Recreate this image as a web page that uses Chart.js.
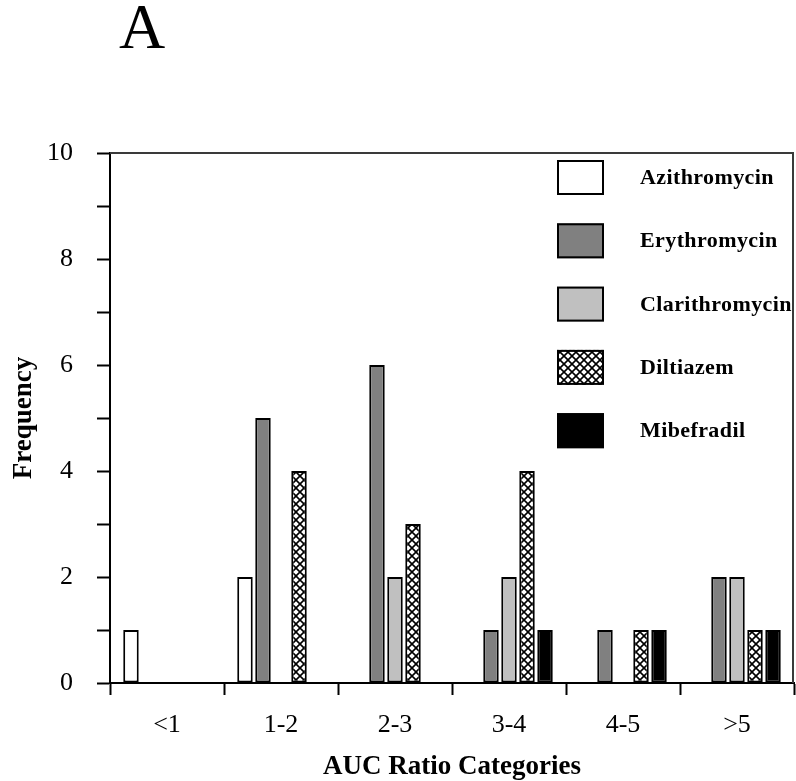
<!DOCTYPE html>
<html>
<head>
<meta charset="utf-8">
<title>AUC Ratio Categories</title>
<script src="https://cdn.jsdelivr.net/npm/chart.js@4/dist/chart.umd.min.js"></script>
<style>
  html, body { margin: 0; padding: 0; background: #ffffff; }
  canvas { display: block; }
</style>
</head>
<body>
<canvas id="chart" width="796" height="781"></canvas>
<script>
// Categories of AUC ratio and the number of interactions in each one
const categories = ['<1', '1-2', '2-3', '3-4', '4-5', '>5'];
const azithromycin = [1, 2, 0, 0, 0, 0];
const erythromycin = [0, 5, 6, 1, 1, 2];
const clarithromycin = [0, 0, 2, 2, 0, 2];
const diltiazem = [0, 4, 3, 4, 1, 1];
const mibefradil = [0, 0, 0, 1, 1, 1];

// Frequency axis: 0..10, a tick every unit, a label every second unit
const yMin = 0;
const yMax = 10;
const yStep = 1;
const yLabelEvery = 2;

const SERIF = "'Liberation Serif', 'Times New Roman', serif";

// Cross-hatch fill used for Diltiazem
function crossHatch() {
  const size = 8;
  const c = document.createElement('canvas');
  c.width = size; c.height = size;
  const g = c.getContext('2d');
  g.fillStyle = '#ffffff';
  g.fillRect(0, 0, size, size);
  g.strokeStyle = '#000000';
  g.lineWidth = 1.6;
  g.beginPath();
  g.moveTo(-1, -1); g.lineTo(size + 1, size + 1);
  g.moveTo(size + 1, -1); g.lineTo(-1, size + 1);
  g.stroke();
  return g.createPattern(c, 'repeat');
}

const ctx = document.getElementById('chart').getContext('2d');

const series = [
  { label: 'Azithromycin', data: azithromycin, fill: '#ffffff' },
  { label: 'Erythromycin', data: erythromycin, fill: '#808080' },
  { label: 'Clarithromycin', data: clarithromycin, fill: '#c0c0c0' },
  { label: 'Diltiazem', data: diltiazem, fill: crossHatch() },
  { label: 'Mibefradil', data: mibefradil, fill: '#000000' }
];

// Panel letter, frame lines and the boxed legend inside the plot
const decorations = {
  id: 'decorations',
  afterDraw(chart) {
    const c = chart.ctx;
    const a = chart.chartArea;
    c.save();

    // top and right frame
    c.strokeStyle = '#3a3a3a';
    c.lineWidth = 2;
    c.beginPath();
    c.moveTo(a.left, a.top);
    c.lineTo(a.right - 1, a.top);
    c.lineTo(a.right - 1, a.bottom);
    c.stroke();

    // panel letter
    c.fillStyle = '#000000';
    c.font = '64px ' + SERIF;
    c.textAlign = 'left';
    c.textBaseline = 'alphabetic';
    c.fillText('A', 119, 48);

    // legend
    const boxX = a.right - 237;
    const textX = a.right - 154;
    const boxW = 47, boxH = 35, pitch = 63.3;
    c.font = 'bold 22px ' + SERIF;
    if ('letterSpacing' in c) c.letterSpacing = '0.4px';
    c.textBaseline = 'middle';
    chart.data.datasets.forEach((ds, i) => {
      const y = a.top + 7 + i * pitch;
      c.fillStyle = ds.backgroundColor;
      c.fillRect(boxX, y, boxW, boxH);
      c.strokeStyle = '#000000';
      c.lineWidth = 2;
      c.strokeRect(boxX + 1, y + 1, boxW - 2, boxH - 2);
      c.fillStyle = '#000000';
      c.fillText(ds.label, textX, y + boxH / 2 + 1);
    });
    c.restore();
  }
};

new Chart(ctx, {
  type: 'bar',
  data: {
    labels: categories,
    datasets: series.map(s => ({
      label: s.label,
      data: s.data,
      backgroundColor: s.fill,
      borderColor: '#000000',
      borderWidth: 2,
      borderSkipped: false,
      categoryPercentage: 0.79,
      barPercentage: 0.86
    }))
  },
  options: {
    responsive: false,
    animation: false,
    devicePixelRatio: 1,
    layout: { padding: { top: 153, right: 2, left: 0, bottom: 0 } },
    plugins: {
      legend: { display: false },
      tooltip: { enabled: false }
    },
    scales: {
      x: {
        afterFit(scale) { scale.height = 98; },
        grid: {
          offset: true,
          drawOnChartArea: false,
          drawTicks: true,
          tickLength: 12,
          tickWidth: 2,
          tickColor: '#000000'
        },
        border: { display: true, color: '#000000', width: 2 },
        ticks: {
          color: '#000000',
          padding: 15,
          font: { family: SERIF, size: 26 }
        },
        title: {
          display: true,
          text: 'AUC Ratio Categories',
          color: '#000000',
          font: { family: SERIF, size: 27, weight: 'bold', lineHeight: 1.0 },
          padding: { top: 6, bottom: 0 }
        }
      },
      y: {
        min: yMin,
        max: yMax,
        afterFit(scale) { scale.width = 110; },
        grid: {
          drawOnChartArea: false,
          drawTicks: true,
          tickLength: 13,
          tickWidth: 2,
          tickColor: '#000000'
        },
        border: { display: true, color: '#000000', width: 2 },
        ticks: {
          stepSize: yStep,
          color: '#000000',
          padding: 24,
          font: { family: SERIF, size: 26 },
          callback: v => (v % yLabelEvery === 0 ? String(v) : '')
        },
        title: {
          display: true,
          text: 'Frequency',
          color: '#000000',
          font: { family: SERIF, size: 27, weight: 'bold' },
          padding: { top: 8, bottom: 0 }
        }
      }
    }
  },
  plugins: [decorations]
});
</script>
</body>
</html>
